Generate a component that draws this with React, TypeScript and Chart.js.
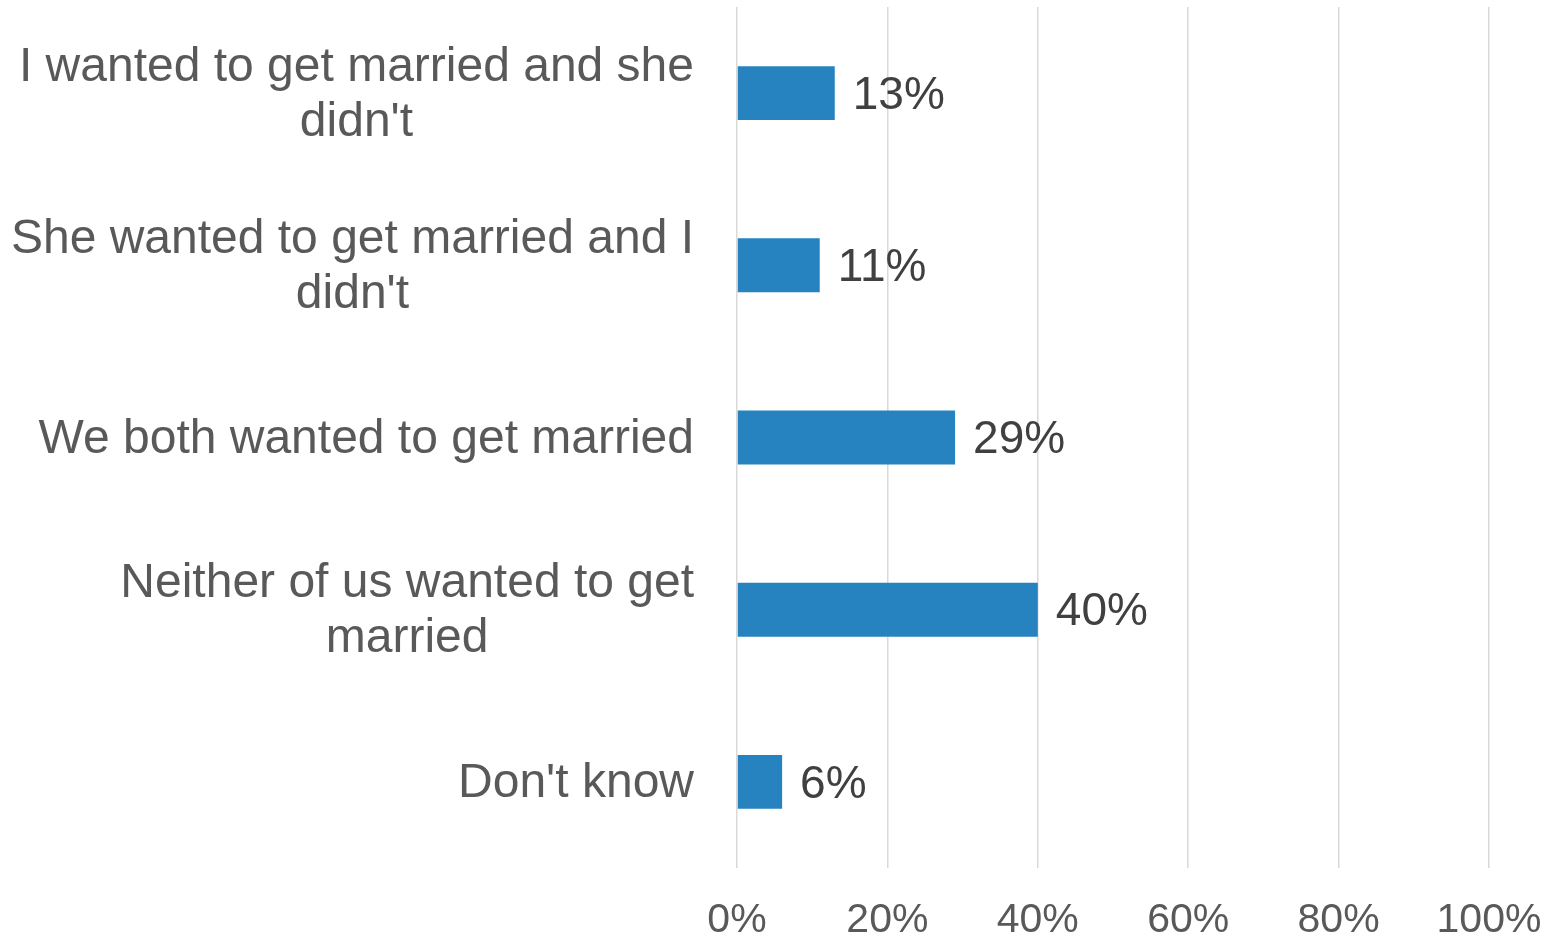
import React, { useEffect, useRef } from "react";
import { Chart, registerables } from "chart.js";

Chart.register(...registerables);

const categories: string[][] = [
  ["I wanted to get married and she", "didn't"],
  ["She wanted to get married and I", "didn't"],
  ["We both wanted to get married"],
  ["Neither of us wanted to get", "married"],
  ["Don't know"],
];
const values: number[] = [13, 11, 29, 40, 6];
const xTickMin = 0;
const xTickMax = 100;
const xTickStep = 20;

const FONT = "'Liberation Sans', Arial, sans-serif";

const labelPlugin = {
  id: "customLabels",
  afterDatasetsDraw(chart: any) {
    const ctx = chart.ctx as CanvasRenderingContext2D;
    const meta = chart.getDatasetMeta(0);
    const yScale = chart.scales.y;
    ctx.save();
    // data labels
    ctx.font = `46px ${FONT}`;
    ctx.fillStyle = "#404040";
    ctx.textAlign = "left";
    ctx.textBaseline = "middle";
    meta.data.forEach((bar: any, i: number) => {
      ctx.fillText(values[i] + "%", bar.x + 18, bar.y + 3);
    });
    // category labels: block right-aligned, lines centered within block
    ctx.font = `48px ${FONT}`;
    ctx.fillStyle = "#595959";
    ctx.textAlign = "center";
    const right = chart.chartArea.left - 43;
    const lh = 55;
    categories.forEach((lines, i) => {
      const yc = yScale.getPixelForValue(i) + 2;
      const maxW = Math.max(...lines.map((l) => ctx.measureText(l).width));
      const cx = right - maxW / 2;
      lines.forEach((l, j) => {
        ctx.fillText(l, cx, yc + (j - (lines.length - 1) / 2) * lh);
      });
    });
    ctx.restore();
  },
};

export default function App() {
  const ref = useRef<HTMLCanvasElement | null>(null);
  useEffect(() => {
    document.body.style.margin = "0";
    if (!ref.current) return;
    const chart = new Chart(ref.current, {
      type: "bar",
      data: {
        labels: categories.map((c) => c.join(" ")),
        datasets: [
          {
            data: values,
            backgroundColor: "#2683C0",
            borderWidth: 0,
            barPercentage: 0.313,
            categoryPercentage: 1,
          },
        ],
      },
      options: {
        indexAxis: "y",
        responsive: false,
        animation: false,
        layout: { padding: { left: 737, right: 63, top: 7, bottom: 0 } },
        plugins: { legend: { display: false }, tooltip: { enabled: false } },
        scales: {
          x: {
            min: xTickMin,
            max: xTickMax,
            ticks: {
              stepSize: xTickStep,
              callback: (v: any) => v + "%",
              color: "#595959",
              font: { family: FONT, size: 41, lineHeight: 1.0 },
              padding: 32,
              maxRotation: 0,
            },
            grid: { color: "#D9D9D9", lineWidth: 1.5, drawTicks: false },
            border: { display: false },
            afterFit: (s: any) => {
              s.height = 69;
              s.paddingLeft = 0;
              s.paddingRight = 0;
            },
          },
          y: {
            ticks: { display: false },
            grid: { display: false, drawTicks: false },
            border: { display: false },
            afterFit: (s: any) => {
              s.width = 0;
            },
          },
        },
      },
      plugins: [labelPlugin],
    });
    return () => chart.destroy();
  }, []);
  return (
    <div style={{ width: 1552, height: 937 }}>
      <canvas ref={ref} width={1552} height={937} style={{ display: "block" }} />
    </div>
  );
}
